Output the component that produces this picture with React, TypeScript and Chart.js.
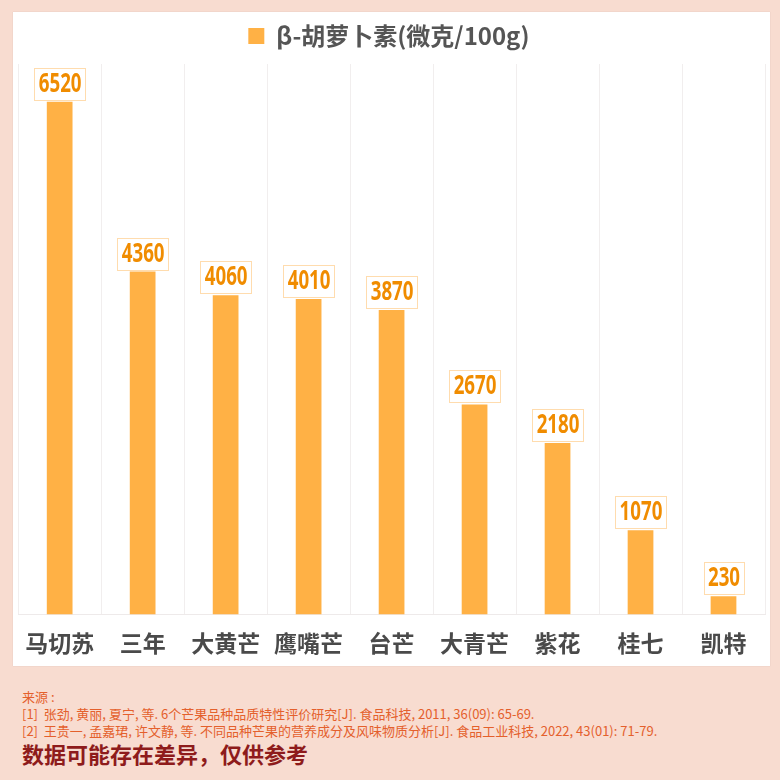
import React, { useEffect, useRef } from "react";
import { Chart, registerables } from "chart.js";

Chart.register(...registerables);

const categories = ["马切苏", "三年", "大黄芒", "鹰嘴芒", "台芒", "大青芒", "紫花", "桂七", "凯特"];
const seriesName = "β-胡萝卜素(微克/100g)";
const values = [6520, 4360, 4060, 4010, 3870, 2670, 2180, 1070, 230];
const yMax = 7000;
const sources = [
  "来源 :",
  "[1]  张劲, 黄丽, 夏宁, 等. 6个芒果品种品质特性评价研究[J]. 食品科技, 2011, 36(09): 65-69.",
  "[2]  王贵一, 孟嘉珺, 许文静, 等. 不同品种芒果的营养成分及风味物质分析[J]. 食品工业科技, 2022, 43(01): 71-79.",
];
const disclaimer = "数据可能存在差异，仅供参考";

const BAR = "#ffb145";
const LABEL = "#f08c00";
const CJK = '"Noto Sans CJK SC", "Noto Sans", sans-serif';

const legendSpacing = {
  id: "legendSpacing",
  beforeInit(chart: any) {
    const fit = chart.legend.fit;
    chart.legend.fit = function () {
      fit.bind(chart.legend)();
      this.height += 6;
    };
  },
};

const valueLabels = {
  id: "valueLabels",
  afterDatasetsDraw(chart: any) {
    const ctx = chart.ctx;
    const meta = chart.getDatasetMeta(0);
    const sx = 0.72;
    ctx.save();
    ctx.font = 'bold 26px "Noto Sans", "DejaVu Sans", sans-serif';
    ctx.textAlign = "center";
    ctx.textBaseline = "middle";
    meta.data.forEach((bar: any, i: number) => {
      const text = String(values[i]);
      const tw = ctx.measureText(text).width * sx;
      const w = Math.round(tw + 8);
      const h = 32;
      const cx = bar.x;
      const bottom = Math.round(bar.y - 2);
      const left = Math.round(cx - w / 2);
      ctx.fillStyle = "#ffffff";
      ctx.fillRect(left, bottom - h, w, h);
      ctx.strokeStyle = "#ffdcae";
      ctx.lineWidth = 1;
      ctx.strokeRect(left + 0.5, bottom - h + 0.5, w, h);
      ctx.save();
      ctx.translate(cx + 0.5, bottom - h / 2 + 1);
      ctx.scale(sx, 1);
      ctx.fillStyle = LABEL;
      ctx.fillText(text, 0, 0);
      ctx.restore();
    });
    ctx.restore();
  },
};

export default function App() {
  const ref = useRef<HTMLCanvasElement | null>(null);
  useEffect(() => {
    if (!ref.current) return;
    const chart = new Chart(ref.current, {
      type: "bar",
      data: {
        labels: categories,
        datasets: [
          {
            label: seriesName,
            data: values,
            backgroundColor: BAR,
            borderWidth: 0,
            barPercentage: 0.31,
            categoryPercentage: 1,
          },
        ],
      },
      options: {
        responsive: false,
        animation: false,
        layout: { padding: { left: 3, right: 5, top: 2, bottom: 0 } },
        plugins: {
          legend: {
            display: true,
            labels: {
              color: "#555555",
              font: { family: CJK, size: 24, weight: "bold" as any },
              boxWidth: 16,
              boxHeight: 16,
              padding: 10,
            },
          },
          tooltip: { enabled: false },
        },
        scales: {
          x: {
            grid: { color: "#f1eeee", offset: true, drawTicks: false },
            border: { color: "#eeeaea" },
            ticks: {
              color: "#4a4a4a",
              font: { family: CJK, size: 23, weight: "bold" as any },
              padding: 15,
            },
          },
          y: {
            display: false,
            min: 0,
            max: yMax,
          },
        },
      },
      plugins: [legendSpacing, valueLabels],
    });
    return () => chart.destroy();
  }, []);

  return (
    <div style={{ position: "absolute", left: 0, top: 0, width: 780, height: 780, background: "#f8dcd0", fontFamily: CJK }}>
      <div
        style={{
          position: "absolute",
          left: 13,
          top: 12,
          width: 757,
          height: 654,
          background: "#ffffff",
          boxShadow: "0 0 1px rgba(0,0,0,0.15)",
        }}
      />
      <canvas ref={ref} width={760} height={660} style={{ display: "block", position: "absolute", left: 10, top: 12 }} />
      <div style={{ position: "absolute", left: 22, top: 688, color: "#e4602c", fontSize: 13, lineHeight: "17px", whiteSpace: "pre" }}>
        {sources.map((s, i) => (
          <div key={i}>{s}</div>
        ))}
      </div>
      <div style={{ position: "absolute", left: 22, top: 739, color: "#8e1b1b", fontSize: 22, fontWeight: "bold", lineHeight: "28px" }}>
        {disclaimer}
      </div>
    </div>
  );
}
